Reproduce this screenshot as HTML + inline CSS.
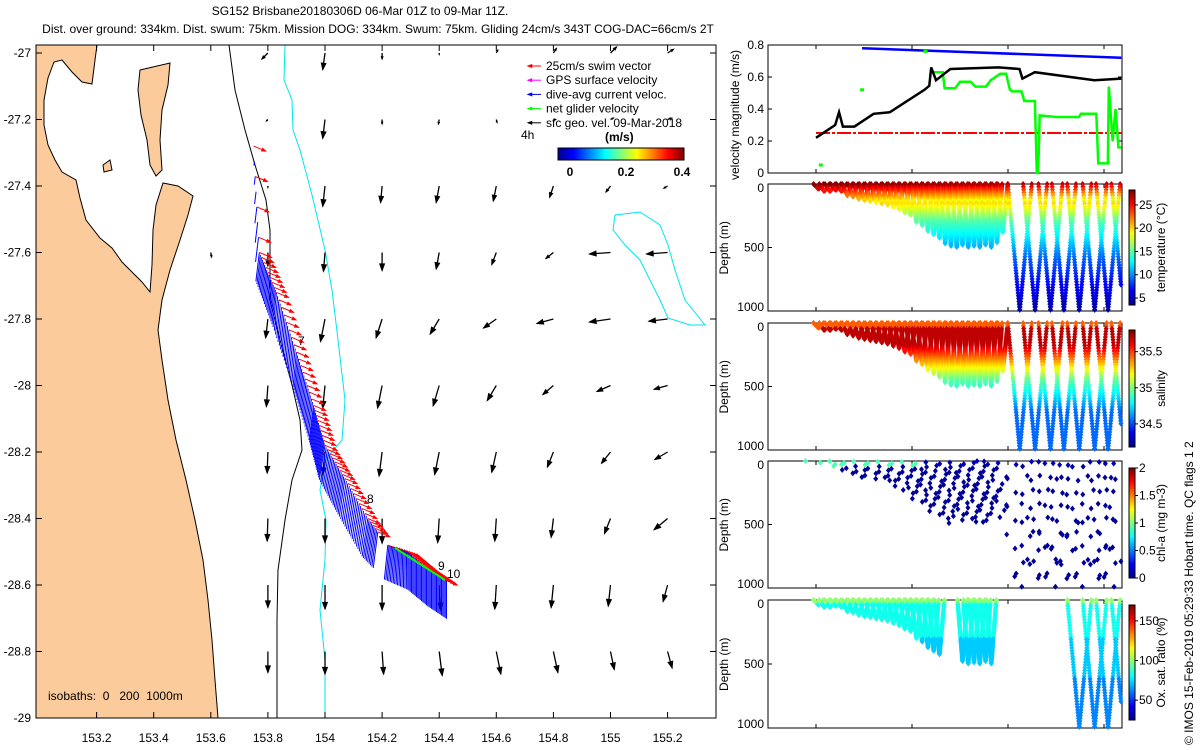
<!DOCTYPE html>
<html><head><meta charset="utf-8">
<style>
html,body{margin:0;padding:0;background:#fff;}
svg{display:block;font-family:"Liberation Sans",sans-serif;}
text{font-size:12px;fill:#000;}
</style></head>
<body>
<svg id="fig" width="1200" height="750" viewBox="0 0 1200 750" xmlns="http://www.w3.org/2000/svg">
<defs>
<linearGradient id="jetV" x1="0" y1="1" x2="0" y2="0">
<stop offset="0" stop-color="#00008f"/><stop offset="0.125" stop-color="#0000ff"/><stop offset="0.375" stop-color="#00ffff"/><stop offset="0.625" stop-color="#ffff00"/><stop offset="0.875" stop-color="#ff0000"/><stop offset="1" stop-color="#800000"/>
</linearGradient>
<linearGradient id="jetH" x1="0" y1="0" x2="1" y2="0">
<stop offset="0" stop-color="#00008f"/><stop offset="0.125" stop-color="#0000ff"/><stop offset="0.375" stop-color="#00ffff"/><stop offset="0.625" stop-color="#ffff00"/><stop offset="0.875" stop-color="#ff0000"/><stop offset="1" stop-color="#800000"/>
</linearGradient>
<clipPath id="mapClip"><rect x="36" y="45" width="680" height="673"/></clipPath>
</defs>
<text x="360" y="15" text-anchor="middle">SG152 Brisbane20180306D 06-Mar 01Z to 09-Mar 11Z.</text>
<text x="378" y="33" text-anchor="middle">Dist. over ground: 334km. Dist. swum: 75km. Mission DOG: 334km. Swum: 75km. Gliding 24cm/s 343T COG-DAC=66cm/s 2T</text>
<g id="map"></g>
<g id="right"></g>
<text transform="translate(1193,745) rotate(-90)" style="font-size:12px">© IMOS 15-Feb-2019 05:29:33 Hobart time. QC flags 1 2</text>
</svg>
<script>
const NS="http://www.w3.org/2000/svg";
function mk(tag,attrs,parent,txt){const e=document.createElementNS(NS,tag);for(const k in attrs)e.setAttribute(k,attrs[k]);if(txt!==undefined)e.textContent=txt;parent.appendChild(e);return e;}
function jet(t){t=Math.max(0,Math.min(1,t));const c=v=>Math.round(255*Math.max(0,Math.min(1,v)));return `rgb(${c(1.5-Math.abs(4*t-3))},${c(1.5-Math.abs(4*t-2))},${c(1.5-Math.abs(4*t-1))})`;}

/* ================= MAP ================= */
const mapLonTicks=[153.2,153.4,153.6,153.8,154,154.2,154.4,154.6,154.8,155,155.2];
const mapLatTicks=[-27,-27.2,-27.4,-27.6,-27.8,-28,-28.2,-28.4,-28.6,-28.8,-29];
const gridLon=[153.6,153.8,154.0,154.2,154.4,154.6,154.8,155.0,155.2];
const gridLat=[-27.0,-27.2,-27.4,-27.6,-27.8,-28.0,-28.2,-28.4,-28.6,-28.8,-29.0];
const geoU=[
[0,-0.08,-0.03,0,0,0.02,0.04,0.08,0.08],
[0,-0.02,-0.03,0,-0.01,0.01,0.03,0.04,0.05],
[0,0,-0.03,-0.02,-0.04,-0.04,-0.05,-0.06,-0.05],
[0.01,0,-0.02,0,-0.04,-0.06,-0.1,-0.28,-0.28],
[0,-0.03,-0.06,-0.08,-0.12,-0.17,-0.22,-0.28,-0.25],
[0,-0.02,-0.03,-0.06,-0.08,-0.12,-0.14,-0.18,-0.18],
[0,-0.01,-0.03,-0.04,-0.06,-0.06,-0.08,-0.12,-0.17],
[0,-0.01,0,0,-0.02,-0.02,-0.03,-0.08,-0.18],
[0,0,0,0,0.02,-0.02,-0.03,-0.03,-0.06],
[0,0,0,0.02,0.04,0.06,0.06,0.05,0.06],
[0,0,0,0,0,0,0,0,0]];
const geoV=[
[0,-0.08,-0.22,-0.08,-0.02,0.04,0.06,0.08,0.05],
[0,-0.02,-0.25,-0.06,-0.06,-0.04,0.0,0.02,0.02],
[0,-0.02,-0.27,-0.22,-0.22,-0.2,-0.15,-0.08,-0.03],
[-0.06,-0.18,-0.25,-0.24,-0.22,-0.16,-0.08,-0.02,-0.02],
[0,-0.25,-0.3,-0.25,-0.2,-0.12,-0.06,-0.04,-0.03],
[0,-0.28,-0.3,-0.3,-0.27,-0.2,-0.12,-0.08,-0.05],
[0,-0.28,-0.3,-0.32,-0.3,-0.27,-0.2,-0.15,-0.1],
[0,-0.3,-0.32,-0.33,-0.32,-0.3,-0.25,-0.2,-0.15],
[0,-0.3,-0.32,-0.33,-0.33,-0.32,-0.3,-0.28,-0.22],
[0,-0.28,-0.3,-0.3,-0.32,-0.3,-0.28,-0.24,-0.22],
[0,-0.05,-0.05,-0.05,-0.05,-0.05,-0.05,-0.05,-0.05]];
const trackLon=[153.75,153.77,153.83,153.9,153.96,154.0,154.07,154.15,154.22,154.29,154.36,154.43];
const trackLat=[-27.28,-27.6,-27.72,-27.9,-28.06,-28.18,-28.28,-28.4,-28.48,-28.5,-28.55,-28.59];
const dacU=[0.0,-0.03,-0.03,-0.03,-0.04,-0.05,-0.05,-0.05,-0.03,0.0,0.0,0.0];
const dacV=[0.0,-0.25,-0.3,-0.3,-0.3,-0.3,-0.33,-0.33,-0.3,-0.33,-0.33,-0.33];

const mx=lon=>325+(lon-154)*285.5, my=lat=>53+(-27-lat)*332.5;
const map=document.getElementById('map');
const mg=mk('g',{'clip-path':'url(#mapClip)'},map);


const land=mk('path',{d:"M36,45 L97,45 L95,60 L92,84 L82,82 L72,72 L62,60 L54,62 L48,78 L44,100 L44,125 L48,145 L55,160 L62,172 L76,180 L80,198 L86,220 L100,238 L112,248 L122,262 L132,272 L142,282 L150,292 L152,265 L153,230 L156,205 L163,183 L178,186 L193,196 L188,215 L180,240 L170,270 L162,300 L158,330 L162,360 L168,400 L176,440 L186,480 L195,520 L203,560 L208,600 L212,640 L215,680 L218,718 L36,718 Z",fill:"#fbcb9b",stroke:"#000","stroke-width":1},mg);

const isl2=mk('path',{d:"M140,70 L170,63 L168,85 L162,110 L160,140 L162,170 L156,176 L150,165 L147,140 L141,115 L138,90 Z",fill:"#fbcb9b",stroke:"#000"},mg);

const isl3=mk('path',{d:"M103,165 L110,160 L112,170 L104,172 Z",fill:"#fbcb9b",stroke:"#000"},mg);

const iso200=mk('path',{d:"M229,45 L235,90 L245,130 L255,165 L266,200 L270,230 L270,300 L280,340 L292,385 L300,420 L302,450 L292,480 L285,520 L278,570 L277,620 L277,718",fill:"none",stroke:"#000","stroke-width":1},mg);

const iso1000=mk('path',{d:"M285,45 L284,80 L292,100 L293,130 L300,150 L312,195 L325,250 L332,290 L338,340 L345,400 L342,440 L325,460 L320,490 L326,520 L325,560 L320,610 L325,660 L325,718",fill:"none",stroke:"#00e5ee","stroke-width":1},mg);

const isoLoop=mk('path',{d:"M615,215 L640,212 L660,225 L668,245 L675,270 L685,300 L705,325 L690,325 L668,318 L660,300 L650,280 L640,260 L625,245 L613,230 Z",fill:"none",stroke:"#00e5ee"},mg);

function arrow(parent,x1,y1,x2,y2,col,hs,sw){
  const g=mk('g',{},parent);
  mk('line',{x1,y1,x2,y2,stroke:col,'stroke-width':sw||1},g);
  const a=Math.atan2(y2-y1,x2-x1),L=Math.hypot(x2-x1,y2-y1);if(L<1)return g;
  const h=hs||Math.min(7,L*0.4);
  mk('path',{d:`M${x2},${y2} L${x2-h*Math.cos(a-0.35)},${y2-h*Math.sin(a-0.35)} L${x2-h*Math.cos(a+0.35)},${y2-h*Math.sin(a+0.35)} Z`,fill:col,stroke:col},g);
  return g;}
for(let r=0;r<gridLat.length;r++)for(let c=0;c<gridLon.length;c++){
  const x=mx(gridLon[c]),y=my(gridLat[r]),u=geoU[r][c],v=geoV[r][c];
  if(c===0&&r<3)continue;
  const g=arrow(mg,x,y,x+u*75,y-v*75,'#000',null,1.3);
  
  
}
for(let i=0;i<trackLon.length-1;i++){
  const n=i<1?7:16;
  for(let k=0;k<n;k++){
    const f=k/n;
    if(i===7&&f>0.55)continue;
    const lon=trackLon[i]+(trackLon[i+1]-trackLon[i])*f, lat=trackLat[i]+(trackLat[i+1]-trackLat[i])*f;
    const u=dacU[i]+(dacU[i+1]-dacU[i])*f, v=dacV[i]+(dacV[i+1]-dacV[i])*f;
    const x=mx(lon),y=my(lat);
    if(Math.abs(v)>0.01){
    const b=mk('line',{x1:x,y1:y,x2:x+u*115,y2:y-v*115,stroke:'#0000ff','stroke-width':1},mg);
    
    }
    if(k%2===0){
    const rg=arrow(mg,x,y,x+12,y+5,'#ff0000',4);
    
    }
  }
}
const mlabels=[['7',298,345],['8',367,503],['9',438,570],['10',447,578]];
mlabels.forEach(l=>{const t=mk('text',{x:l[1],y:l[2]},mg,l[0]);});
const gl=mk('line',{x1:395,y1:548,x2:445,y2:580,stroke:'#00ff00','stroke-width':2},mg);

const mf=mk('rect',{x:36,y:45,width:680,height:673,fill:'none',stroke:'#000'},map);

mapLonTicks.forEach(l=>{const x=mx(l);mk('line',{x1:x,y1:718,x2:x,y2:712,stroke:'#000'},map);mk('line',{x1:x,y1:45,x2:x,y2:51,stroke:'#000'},map);
  const t=mk('text',{x,y:742,'text-anchor':'middle'},map,String(l));});
mapLatTicks.forEach(l=>{const y=my(l);mk('line',{x1:36,y1:y,x2:42,y2:y,stroke:'#000'},map);mk('line',{x1:716,y1:y,x2:710,y2:y,stroke:'#000'},map);
  const t=mk('text',{x:31,y:y+4,'text-anchor':'end'},map,String(l));});
const isoTxt=mk('text',{x:48,y:700},map,'isobaths:\u00a0 0 \u00a0\u00a0200 \u00a01000m');
const legItems=[['#ff0000','25cm/s swim vector'],['#ff00ff','GPS surface velocity'],['#0000ff','dive-avg current veloc.'],['#00ff00','net glider velocity'],['#000','sfc geo. vel. 09-Mar-2018']];
legItems.forEach((it,i)=>{const y=66+i*14.2;const g=mk('g',{},map);
  arrow(g,541,y,528,y,it[0],4);mk('text',{x:546,y:y+4},g,it[1]);});
const t4=mk('text',{x:521,y:139},map,'4h');
const tms=mk('text',{x:605,y:141,'font-weight':'bold'},map,'(m/s)');
const cbm=mk('rect',{x:558,y:148,width:126,height:12,fill:'url(#jetH)',stroke:'#000'},map);
const speedTicks=[0,0.2,0.4];
speedTicks.forEach(v=>{const x=570+v*280;const t=mk('text',{x,y:176,'text-anchor':'middle','font-weight':'bold'},map,String(v));});

/* ================= RIGHT PANELS ================= */
const R=document.getElementById('right');
const X0=768,X1=1122;
const tx=t=>816+t*96;
const dayLabels=['06Mar','07Mar','08Mar','09Mar'];
const blackT=[0.0,0.2,0.24,0.28,0.4,0.6,0.77,1.13,1.18,1.2,1.25,1.4,1.9,2.12,2.15,2.28,2.9,3.18];
const blackV=[0.22,0.3,0.38,0.29,0.29,0.37,0.38,0.52,0.545,0.66,0.58,0.65,0.66,0.65,0.59,0.63,0.58,0.59];
const greenT=[1.19,1.32,1.34,1.45,1.5,1.61,1.66,1.77,1.82,1.92,1.98,2.02,2.04,2.14,2.17,2.28,2.3,2.31,2.32,2.33,2.5,2.74,2.76,2.92,2.94,3.04,3.05,3.09,3.12,3.15,3.18];
const greenV=[0.63,0.63,0.53,0.53,0.57,0.57,0.54,0.54,0.58,0.62,0.62,0.52,0.51,0.51,0.45,0.45,0.0,0.0,0.12,0.36,0.35,0.35,0.37,0.37,0.06,0.06,0.54,0.2,0.4,0.16,0.16];
const blueT=[0.48,3.18];
const blueV=[0.78,0.72];
const swimV=0.25;
const P1={y0:45,y1:173};
const vy=v=>P1.y1-(v/0.8)*128;
function frame(y0,y1,name){const r=mk('rect',{x:X0,y:y0,width:X1-X0,height:y1-y0,fill:'none',stroke:'#000'},R);
  dayLabels.forEach((d,i)=>{const x=tx(i);mk('line',{x1:x,y1:y1,x2:x,y2:y1-4,stroke:'#000'},R);mk('line',{x1:x,y1:y0,x2:x,y2:y0+4,stroke:'#000'},R);});}
frame(P1.y0,P1.y1,'velocity-panel-frame');
[0,0.2,0.4,0.6,0.8].forEach(v=>{const y=vy(v);mk('line',{x1:X0,y1:y,x2:X0+4,y2:y,stroke:'#000'},R);mk('line',{x1:X1,y1:y,x2:X1-4,y2:y,stroke:'#000'},R);
  const t=mk('text',{x:764,y:y+4,'text-anchor':'end'},R,String(v));});
const vlab=mk('text',{transform:'translate(739,180) rotate(-90)'},R,'velocity magnitude (m/s)');
function poly(T,V,col,w,name){const p=mk('polyline',{points:T.map((t,i)=>tx(t)+','+vy(V[i])).join(' '),fill:'none',stroke:col,'stroke-width':w},R);}
poly(blueT,blueV,'#0000ff',2.5,'dive-avg-current-line');
const sw=mk('line',{x1:tx(0),y1:vy(swimV),x2:X1,y2:vy(swimV),stroke:'#ff0000','stroke-width':2,'stroke-dasharray':'14 2 3 2'},R);
poly(greenT,greenV,'#00ff00',2.5,'net-glider-velocity-line');
poly(blackT,blackV,'#000',2.5,'surface-velocity-line');
const gdots=[[0.05,0.05],[1.14,0.76],[0.48,0.52]];
gdots.forEach(d=>{const r=mk('rect',{x:tx(d[0])-2,y:vy(d[1])-1.5,width:4,height:3,fill:'#00ff00'},R);});

const diveT=[0.0,0.06,0.12,0.18,0.24,0.3,0.36,0.42,0.48,0.54,0.6,0.66,0.72,0.78,0.84,0.9,0.96,1.02,1.08,1.14,1.2,1.26,1.32,1.38,1.44,1.5,1.56,1.62,1.68,1.74,1.8,1.86,1.92,2.06,2.22,2.38,2.52,2.68,2.84,2.98,3.14];
const diveD=[40,60,60,50,60,90,100,120,130,140,150,160,170,180,200,230,250,300,330,370,400,430,470,490,500,480,500,490,500,480,500,460,380,1000,1000,1000,1000,1000,1000,1000,1000];
const oxMask=[1,1,1,1,1,1,1,1,1,1,1,1,1,1,1,1,1,1,1,1,1,1,0,0,0,1,1,1,1,1,1,0,0,0,0,0,0,1,1,1,1];
const panels=[
 {y0:184,y1:311,cb:[190,305],vmin:3.5,vmax:28.2,ticks:[5,10,15,20,25],label:'temperature (°C)',name:'temperature'},
 {y0:323,y1:450,cb:[330,447],vmin:34.18,vmax:35.8,ticks:[34.5,35,35.5],label:'salinity',name:'salinity'},
 {y0:461,y1:588,cb:[468,578],vmin:0,vmax:2,ticks:[0,0.5,1,1.5,2],label:'chl-a (mg m-3)',name:'chlorophyll'},
 {y0:600,y1:728,cb:[605,720],vmin:25,vmax:170,ticks:[50,100,150],label:'Ox. sat. ratio (%)',name:'oxygen'}];
function val(p,d,t){
 if(p===0)return d<20?28-t*0.5:(d<150?28-t*0.6-d*0.06:(d<300?20-(d-150)*0.035:(d<600?14.8-(d-300)*0.02:8.8-(d-600)*0.011)));
 if(p===1)return d<40?35.45:(d<180?35.7:(d<450?35.7-(d-180)*0.0028:(d<700?34.95-(d-450)*0.0016:34.55)));
 if(p===2)return d<40?(t<1.2?0.9:0.1):0.05;
 return d<30?100:(d<300?82:(d<600?72:62));
}
panels.forEach((P,pi)=>{
 frame(P.y0,P.y1,P.name+'-panel-frame');
 const dy=d=>P.y0+(d/1000)*(P.y1-P.y0);
 [0,500,1000].forEach(d=>{const y=dy(d);mk('line',{x1:X0,y1:y,x2:X0+4,y2:y,stroke:'#000'},R);
  const t=mk('text',{x:764,y:y+(d===0?8:(d===1000?0:4)),'text-anchor':'end'},R,String(d));});
 const yl=mk('text',{transform:`translate(728,${(P.y0+P.y1)/2+27}) rotate(-90)`},R,'Depth (m)');
 const cb=mk('rect',{x:1129,y:P.cb[0],width:6,height:P.cb[1]-P.cb[0],fill:'url(#jetV)',stroke:'#000'},R);
 P.ticks.forEach(v=>{const y=P.cb[1]-(v-P.vmin)/(P.vmax-P.vmin)*(P.cb[1]-P.cb[0]);mk('line',{x1:1135,y1:y,x2:1138,y2:y,stroke:'#000'},R);
  const t=mk('text',{x:1139,y:y+4},R,String(v));});
 const cl=mk('text',{transform:`translate(1165,${(P.cb[0]+P.cb[1])/2}) rotate(-90)`,'text-anchor':'middle'},R,P.label);
 const g=mk('g',{},R);
 diveT.forEach((t,i)=>{
  if(pi===3&&!oxMask[i])return;
  const D=diveD[i];const x0=tx(t);const w=D>=1000?12:5;
  const step=pi===2?(D>=1000?110:55):(D>=1000?22:9);
  for(let leg=0;leg<2;leg++)for(let d=(pi===2?(i*13+leg*27)%50:0);d<=D;d+=step){
   if(pi===2&&leg===1&&D<1000)continue;
   const x=x0+(leg?w*(2-d/D):w*d/D)-w/2+((pi===2)?((i*37+d*3)%17-8):0);
   const y=dy(Math.min(d,990));
   if(x>X1-1||x<X0+1)continue;
   const c=jet((val(pi,d,t)-P.vmin)/(P.vmax-P.vmin));
   mk('path',{d:`M${x-2.5},${y} L${x},${y-3} L${x+2.5},${y} L${x},${y+3} Z`,fill:c},g);
  }
 });
});
</script>
</body></html>
